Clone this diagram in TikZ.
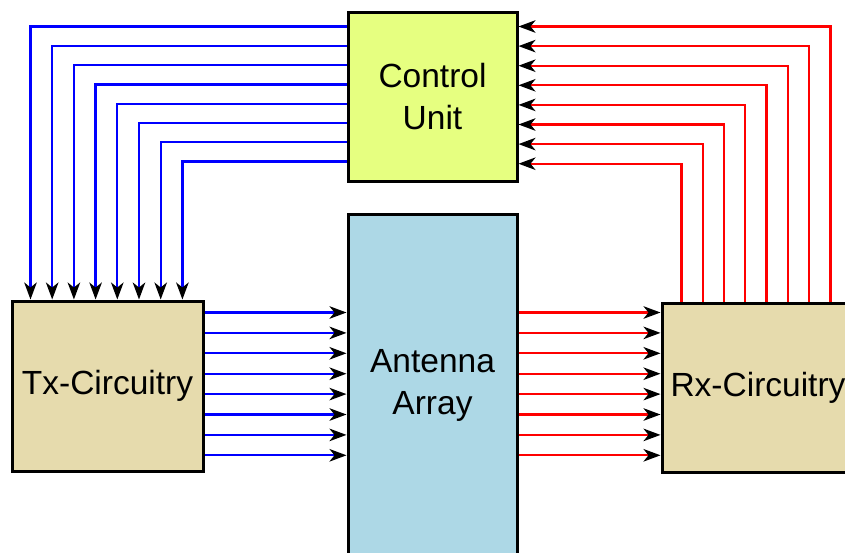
\documentclass[tikz,border=0pt]{standalone}
\usepackage{fontspec}
\setmainfont{Liberation Sans}
\usetikzlibrary{arrows.meta}

\definecolor{cuyellow}{HTML}{E6FF80}
\definecolor{aablue}{HTML}{ADD8E6}
\definecolor{circtan}{HTML}{E6DBAD}

\tikzset{
  block/.style={draw=black, line width=3pt, align=center, inner sep=0pt,
    font=\fontsize{33.5}{42}\selectfont},
  tip/.style={-{Stealth[length=17pt, width=12.5pt, inset=5pt, color=black, fill=black]}},
  bwire/.style={tip, draw=blue, line width=2.3pt},
  rwire/.style={tip, draw=red, line width=2.3pt}
}

\begin{document}
\begin{tikzpicture}[x=1pt, y=-1pt]
        \useasboundingbox (0,0) rectangle (845,552);
        \clip (0,0) rectangle (845,552);
        % blocks
        \node[block, fill=cuyellow, minimum width=169pt, minimum height=169pt] (cu) at (432.5,96.5) {Control\\Unit};
        \node[block, fill=aablue, minimum width=169pt, minimum height=342pt] (aa) at (432.5,385) {Antenna\\Array};
        \node[block, fill=circtan, minimum width=191pt, minimum height=170pt] (tx) at (107.5,386) {Tx-Circuitry};
        \node[block, fill=circtan, minimum width=192pt, minimum height=169pt] (rx) at (758,387.5) {Rx-Circuitry};
        % control lines, eight each side
        \foreach \k in {0,...,7} {
          % control unit -> tx
          \draw[bwire] ([yshift=-16pt-19.3pt*\k]cu.north west) -| ([xshift=20pt+21.7pt*\k]tx.north west);
          % rx -> control unit
          \draw[rwire] ([xshift=170pt-21.3pt*\k]rx.north west) |- ([yshift=-16pt-19.6pt*\k]cu.north east);
          % tx -> antenna -> rx
          \draw[bwire] ([yshift=-13pt-20.4pt*\k]tx.north east) coordinate (s) -- (s -| aa.west);
          \draw[rwire] (s -| aa.east) -- (s -| rx.west);
        }
      \end{tikzpicture}
\end{document}
